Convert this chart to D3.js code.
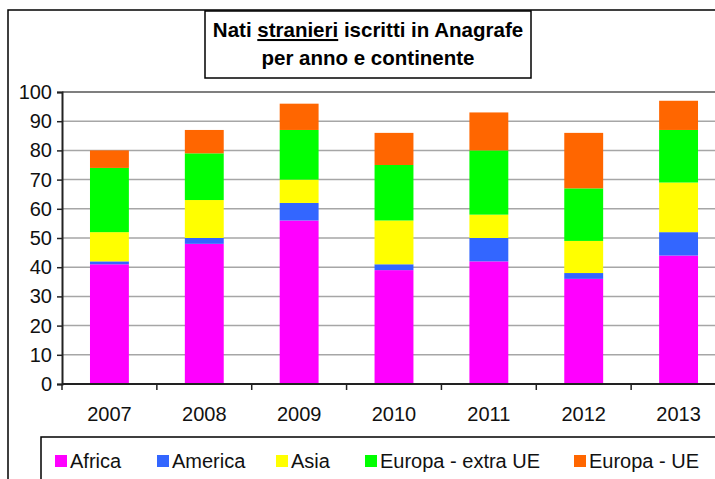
<!DOCTYPE html>
<html>
<head>
<meta charset="utf-8">
<script src="https://cdn.jsdelivr.net/npm/d3@7"></script>
<style>
  body { margin: 0; background: #fff; }
  svg { display: block; font-family: "Liberation Sans", Arial, sans-serif; }
</style>
</head>
<body>
<div id="chart"></div>
<script>
// data
const years = ['2007', '2008', '2009', '2010', '2011', '2012', '2013'];
const continents = ['Africa', 'America', 'Asia', 'Europa - extra UE', 'Europa - UE'];
const africa = [41, 48, 56, 39, 42, 36, 44];
const america = [1, 2, 6, 2, 8, 2, 8];
const asia = [10, 13, 8, 15, 8, 11, 17];
const europaExtra = [22, 16, 17, 19, 22, 18, 18];
const europaUe = [6, 8, 9, 11, 13, 19, 10];
const yTicks = [0, 10, 20, 30, 40, 50, 60, 70, 80, 90, 100];
const colors = ['#ff00ff', '#3366ff', '#ffff00', '#00ff00', '#ff6600'];

const series = [africa, america, asia, europaExtra, europaUe];
const rows = years.map((y, i) => {
  const r = { year: y };
  continents.forEach((c, k) => { r[c] = series[k][i]; });
  return r;
});

const W = 715, H = 479;
const margin = { top: 92, left: 62 };
const plotW = 664, plotH = 292;

const svg = d3.select('#chart').append('svg')
  .attr('width', W)
  .attr('height', H);

// outer chart frame
svg.append('rect')
  .attr('x', 8).attr('y', 10)
  .attr('width', W + 20).attr('height', H + 20)
  .attr('fill', 'none').attr('stroke', '#000').attr('stroke-width', 1.5);

const g = svg.append('g')
  .attr('transform', `translate(${margin.left},${margin.top})`);

const x = d3.scaleBand().domain(years).range([0, plotW]).paddingInner(0.59).paddingOuter(0.295);
const xCat = d3.scaleBand().domain(years).range([0, plotW]);
const y = d3.scaleLinear().domain([0, 100]).range([plotH, 0]);

// gridlines
g.selectAll('.grid')
  .data(yTicks.filter(d => d > 0 && d < 100))
  .enter().append('line')
  .attr('x1', 0).attr('x2', plotW + 20)
  .attr('y1', d => y(d)).attr('y2', d => y(d))
  .attr('stroke', '#a6a6a6').attr('stroke-width', 1.5);

// plot area top border
g.append('line')
  .attr('x1', 0).attr('x2', plotW + 20)
  .attr('y1', 0).attr('y2', 0)
  .attr('stroke', '#7f7f7f').attr('stroke-width', 2);

// stacked bars
const stack = d3.stack().keys(continents);
const layers = stack(rows);

g.selectAll('.layer')
  .data(layers)
  .enter().append('g')
  .attr('fill', (d, i) => colors[i])
  .selectAll('rect')
  .data(d => d)
  .enter().append('rect')
  .attr('x', d => x(d.data.year))
  .attr('width', x.bandwidth())
  .attr('y', d => y(d[1]))
  .attr('height', d => y(d[0]) - y(d[1]));

// y axis
const yAxis = g.append('g')
  .call(d3.axisLeft(y).tickValues(yTicks).tickSize(5).tickPadding(5));
yAxis.select('.domain').attr('stroke', '#222').attr('stroke-width', 2);
yAxis.selectAll('.tick line').attr('stroke', '#222').attr('stroke-width', 1.5);
yAxis.selectAll('text').attr('font-size', 20).attr('fill', '#111');

// x axis with category boundary ticks
const xAxis = g.append('g')
  .attr('transform', `translate(0,${plotH})`);
xAxis.append('line')
  .attr('x1', 0).attr('x2', plotW + 20)
  .attr('stroke', '#222').attr('stroke-width', 2);
xAxis.selectAll('.bt')
  .data(years)
  .enter().append('line')
  .attr('x1', d => xCat(d)).attr('x2', d => xCat(d))
  .attr('y1', 0).attr('y2', 6)
  .attr('stroke', '#222').attr('stroke-width', 1.5);
xAxis.selectAll('.lbl')
  .data(years)
  .enter().append('text')
  .attr('x', d => xCat(d) + xCat.bandwidth() / 2)
  .attr('y', 37)
  .attr('text-anchor', 'middle')
  .attr('font-size', 20)
  .attr('fill', '#111')
  .text(d => d);

// title box
svg.append('rect')
  .attr('x', 205).attr('y', 11)
  .attr('width', 326).attr('height', 67)
  .attr('fill', '#fff').attr('stroke', '#000').attr('stroke-width', 1.5);
const title = svg.append('text')
  .attr('text-anchor', 'middle')
  .attr('font-size', 20.5)
  .attr('font-weight', 'bold')
  .attr('fill', '#000');
title.append('tspan').attr('x', 368).attr('y', 37).text('Nati ');
title.append('tspan').attr('text-decoration', 'underline').text('stranieri');
title.append('tspan').text(' iscritti in Anagrafe');
title.append('tspan').attr('x', 368).attr('y', 65).text('per anno e continente');

// legend
svg.append('rect')
  .attr('x', 41).attr('y', 437)
  .attr('width', W).attr('height', 60)
  .attr('fill', '#fff').attr('stroke', '#000').attr('stroke-width', 1.5);
const legendX = [55, 157, 276, 365, 574];
const legend = svg.selectAll('.leg')
  .data(continents)
  .enter().append('g')
  .attr('transform', (d, i) => `translate(${legendX[i]},461)`);
legend.append('rect')
  .attr('x', 0).attr('y', -6)
  .attr('width', 12).attr('height', 12)
  .attr('fill', (d, i) => colors[i]);
legend.append('text')
  .attr('x', 15).attr('y', 7)
  .attr('font-size', 20)
  .attr('fill', '#111')
  .text(d => d);
</script>
</body>
</html>
